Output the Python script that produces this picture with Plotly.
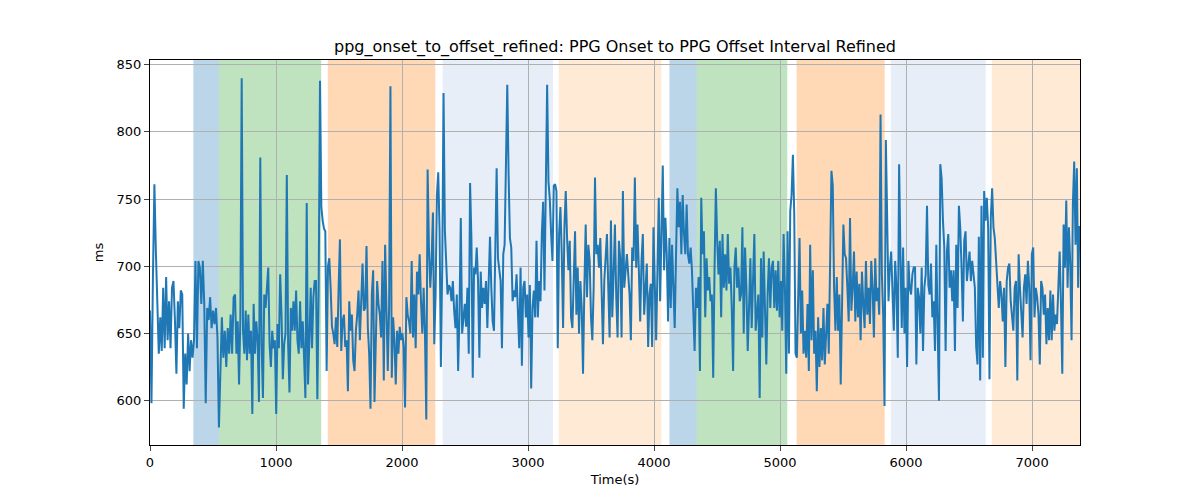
import numpy as np
import plotly.graph_objects as go

# ---- data: interval values (ms) ----
seg01 = [667, 598, 692, 761, 711, 662, 635, 662, 637, 684, 639, 692, 645, 674, 639, 684, 689, 660, 620, 674,
         654, 682, 679, 594, 635, 612, 650, 622, 645, 632, 645, 704, 639, 704, 699, 672, 704, 672, 598, 669,
         660, 677, 654, 667, 657, 669, 647, 580, 635, 662, 632, 652, 625, 654, 635, 664, 635, 677]
seg02 = [679, 635, 659, 612, 662, 840, 652, 635, 667, 630, 664, 635, 652, 590, 672, 635, 659, 645, 599, 781,
         642, 602, 679, 669, 684, 699, 642, 625, 652, 639, 645, 590, 657, 639, 694, 664, 616, 642, 650, 768,
         642, 606, 669, 652, 674, 652, 682, 645, 635, 674, 639, 659, 632, 602, 747, 612, 645, 684, 639, 677,
         689, 689, 601, 684]
seg03 = [838, 744, 734, 728, 726, 622, 700, 706, 684, 655, 650, 642, 662, 640, 684, 720, 637, 659, 664, 640,
         645, 607, 674, 652, 664, 630, 622, 652, 664, 682, 645, 674, 702, 667, 669, 715, 654, 635, 594, 679,
         697, 599, 654, 689, 672, 664, 647, 704, 615, 716, 669, 622, 669, 834, 617, 662, 645, 612, 652, 635,
         655, 645, 650, 640]
seg04 = [595, 677, 664, 659, 650, 704, 647, 679, 639, 696, 679, 709, 674, 650, 684, 650, 586, 772, 714, 684,
         704, 740, 642, 679, 753, 770, 727, 625, 700, 829, 727, 694, 679, 686, 684, 674, 689, 667, 654, 679,
         622, 664, 736, 650, 664, 672, 655, 684, 635, 762, 721, 617, 699, 694, 714, 689, 632, 696, 669, 684,
         672, 689, 654, 699]
seg05 = [722, 684, 659, 652, 720, 773, 706, 699, 689, 639, 709, 716, 763, 835, 768, 721, 714, 674, 682, 677,
         694, 664, 639, 699, 626, 684, 689, 662, 679, 647, 686, 609, 669, 682, 662, 719, 662, 689, 674, 724,
         748, 682, 755, 835, 763, 750, 724, 704, 760, 761, 756, 639, 724, 744, 709, 654, 729, 756, 721, 697,
         719, 662, 654, 702]
seg06 = [726, 664, 699, 650, 689, 669, 620, 684, 731, 677, 716, 704, 662, 645, 684, 766, 709, 716, 699, 721,
         679, 642, 689, 709, 724, 684, 647, 734, 662, 694, 731, 677, 647, 719, 706, 647, 756, 684, 699, 709,
         694, 679, 645, 714, 704, 766, 699, 731, 697, 659, 704, 724, 664, 689, 702, 640, 679, 687, 640, 729,
         674, 645, 697, 751]
seg07 = [674, 731, 775, 697, 736, 709, 659, 721, 669, 716, 679, 654, 709, 758, 729, 748, 709, 753, 724, 709,
         746, 709, 702, 714, 697, 669, 637, 684, 669, 692, 622, 751, 709, 726, 662, 706, 682, 692, 674, 679,
         617, 697, 758, 719, 694, 719, 662, 724, 684, 709, 682, 724, 687, 699, 669, 622, 699, 714, 684, 699,
         674, 679, 729, 650]
seg08 = [714, 684, 637, 669, 706, 654, 699, 724, 652, 664, 679, 602, 706, 647, 711, 669, 627, 679, 706, 669,
         699, 704, 669, 697, 667, 704, 662, 689, 652, 724, 684, 620, 726, 635, 741, 753, 783, 740, 635, 632,
         674, 721, 650, 682, 635, 652, 632, 672, 622, 716, 645, 697, 635, 652, 607, 662, 625, 654, 630, 669,
         627, 647, 672, 635]
seg09 = [709, 771, 760, 684, 652, 692, 652, 679, 612, 684, 731, 709, 706, 684, 659, 736, 667, 684, 711, 659,
         696, 662, 687, 645, 696, 672, 654, 704, 664, 684, 657, 704, 684, 647, 706, 674, 684, 664, 813, 694,
         664, 596, 794, 736, 674, 699, 711, 682, 652, 704, 684, 632, 776, 709, 654, 714, 650, 684, 625, 704,
         684, 679, 694, 699]
seg10 = [699, 627, 684, 677, 650, 699, 637, 684, 694, 745, 686, 679, 702, 662, 674, 637, 716, 654, 600, 776,
         765, 734, 714, 637, 711, 724, 684, 697, 674, 697, 637, 716, 669, 745, 729, 699, 659, 719, 726, 689,
         704, 711, 689, 704, 694, 684, 640, 627, 722, 615, 745, 632, 756, 734, 751, 729, 616, 736, 758, 729,
         721, 704, 689, 669]
seg11 = [689, 679, 659, 684, 625, 689, 699, 702, 674, 659, 652, 684, 689, 615, 709, 684, 664, 647, 684, 694,
         672, 704, 684, 630, 709, 714, 662, 684, 677, 664, 627, 689, 684, 664, 679, 642, 669, 645, 682, 645,
         679, 652, 664, 657, 684, 711, 672, 620, 731, 699, 749, 684, 729, 702, 645, 746, 778, 716, 773, 684,
         730]
segments = [seg01, seg02, seg03, seg04, seg05, seg06, seg07, seg08, seg09, seg10, seg11]

# time span covered by each segment (s)
seg_starts = [0, 675, 1349, 2024, 2698, 3373, 4048, 4722, 5397, 6071, 6746]
seg_ends = [675, 1349, 2024, 2698, 3373, 4048, 4722, 5397, 6071, 6746, 7376]

# shaded phases: (start, end, colour)
phase_start = [344, 548, 1411, 2322, 3243, 4122, 4339, 5131, 5878, 6680]
phase_end = [548, 1358, 2264, 3198, 4058, 4339, 5057, 5830, 6632, 7380]
phase_color = ["#1f77b4", "#2ca02c", "#ff7f0e", "#aec7e8", "#ffbb78",
               "#1f77b4", "#2ca02c", "#ff7f0e", "#aec7e8", "#ffbb78"]

x_ticks = [0, 1000, 2000, 3000, 4000, 5000, 6000, 7000]
y_ticks = [600, 650, 700, 750, 800, 850]

# ---- build series ----
t_all, v_all = [], []
for k, seg in enumerate(segments):
    last = k == len(segments) - 1
    t = np.linspace(seg_starts[k], seg_ends[k], len(seg), endpoint=last)
    t_all.extend(t.tolist())
    v_all.extend(seg)

fig = go.Figure()
fig.add_trace(go.Scatter(x=t_all, y=v_all, mode="lines",
                         line=dict(color="#1f77b4", width=2), showlegend=False))

for s, e, c in zip(phase_start, phase_end, phase_color):
    fig.add_shape(type="rect", xref="x", yref="paper", x0=s, x1=e, y0=0, y1=1,
                  fillcolor=c, opacity=0.3, line=dict(width=0), layer="below")

font = "DejaVu Sans, Arial, sans-serif"
fig.update_layout(
    width=1200, height=500,
    margin=dict(l=150, r=120, t=60, b=55),
    paper_bgcolor="white", plot_bgcolor="white",
    font=dict(family=font, size=13, color="black"),
    title=dict(text="ppg_onset_to_offset_refined: PPG Onset to PPG Offset Interval Refined",
               x=0.5125, xanchor="center", y=0.908, yanchor="middle",
               font=dict(family=font, size=16, color="black")),
    xaxis=dict(range=[0, 7380], tickvals=x_ticks, ticks="outside", ticklen=5,
               showline=True, mirror=True, linecolor="black", linewidth=1,
               showgrid=True, gridcolor="#b0b0b0", gridwidth=1, zeroline=False,
               title=dict(text="Time(s)", font=dict(family=font, size=13), standoff=6)),
    yaxis=dict(range=[567, 853.5], tickvals=y_ticks, ticks="outside", ticklen=5,
               showline=True, mirror=True, linecolor="black", linewidth=1,
               showgrid=True, gridcolor="#b0b0b0", gridwidth=1, zeroline=False,
               title=dict(text="ms", font=dict(family=font, size=13), standoff=10)),
)

fig.write_html("out.html")
